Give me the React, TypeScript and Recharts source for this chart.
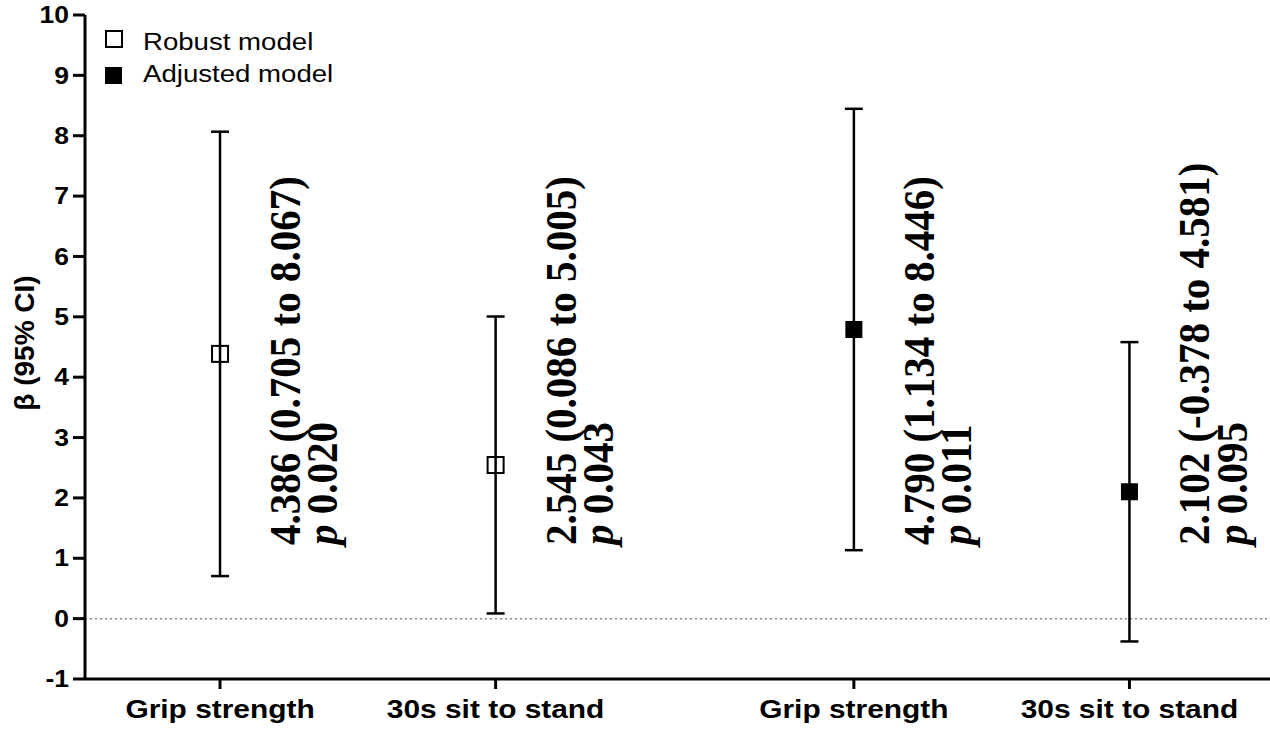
import { ScatterChart, Scatter, XAxis, YAxis, ErrorBar, ReferenceLine, Legend } from 'recharts';

const categories = ['Grip strength', '30s sit to stand', 'Grip strength', '30s sit to stand'];
const xPositions = [1, 2, 3.3, 4.3];

const robustBeta = [4.386, 2.545];
const robustLow = [0.705, 0.086];
const robustHigh = [8.067, 5.005];
const robustP = [0.02, 0.043];

const adjustedBeta = [4.79, 2.102];
const adjustedLow = [1.134, -0.378];
const adjustedHigh = [8.446, 4.581];
const adjustedP = [0.011, 0.095];

const yTicks = [-1, 0, 1, 2, 3, 4, 5, 6, 7, 8, 9, 10];
const yTitle = 'β (95% CI)';

const SANS = "'Liberation Sans', Arial, sans-serif";
const SERIF = "'Liberation Serif', 'Times New Roman', serif";
const SX = 1.15; // the source glyphs are a bit wider than Arial
const ANNOT_SX = 1.1;
const ANNOT_Y = 545;

const robustData = robustBeta.map((b, i) => ({
  x: xPositions[i],
  y: b,
  err: [b - robustLow[i], robustHigh[i] - b],
  low: robustLow[i],
  high: robustHigh[i],
  p: robustP[i],
}));

const adjustedData = adjustedBeta.map((b, i) => ({
  x: xPositions[i + 2],
  y: b,
  err: [b - adjustedLow[i], adjustedHigh[i] - b],
  low: adjustedLow[i],
  high: adjustedHigh[i],
  p: adjustedP[i],
}));

function Annotation({ x, d }: { x: number; d: any }) {
  return (
    <text
      transform={`translate(${x},${ANNOT_Y}) scale(${ANNOT_SX},1) rotate(-90)`}
      fontFamily={SERIF}
      fontWeight="bold"
      fontSize={41}
      fill="#000"
    >
      <tspan x={0} dy={0}>{`${d.y.toFixed(3)} (${d.low.toFixed(3)} to ${d.high.toFixed(3)})`}</tspan>
      <tspan x={0} dy={34}>
        <tspan fontStyle="italic">p</tspan>
        {' ' + d.p.toFixed(3)}
      </tspan>
    </text>
  );
}

const makeShape = (filled: boolean) => (props: any) => {
  const { cx, cy, payload } = props;
  const s = filled ? 17 : 16;
  return (
    <g>
      <rect
        x={cx - s / 2}
        y={cy - s / 2}
        width={s}
        height={s}
        fill={filled ? '#000' : 'none'}
        stroke="#000"
        strokeWidth={filled ? 0 : 2}
      />
      <Annotation x={cx + 80} d={payload} />
    </g>
  );
};

const XTick = (props: any) => {
  const { x, y, payload } = props;
  const idx = xPositions.indexOf(payload.value);
  return (
    <text
      transform={`translate(${x},${y}) scale(${SX},1)`}
      textAnchor="middle"
      dy="0.71em"
      fontFamily={SANS}
      fontWeight="bold"
      fontSize={26}
      fill="#000"
    >
      {categories[idx]}
    </text>
  );
};

const YTick = (props: any) => {
  const { x, y, payload } = props;
  return (
    <text
      transform={`translate(${x},${y}) scale(${SX},1)`}
      textAnchor="end"
      dy="0.355em"
      fontFamily={SANS}
      fontWeight="bold"
      fontSize={23}
      fill="#000"
    >
      {payload.value}
    </text>
  );
};

const renderLegend = () => (
  <svg width={360} height={100} style={{ display: 'block' }}>
    <rect x={106} y={31} width={16} height={16} fill="#fff" stroke="#000" strokeWidth={2} />
    <text transform={`translate(143,50) scale(${SX},1)`} fontFamily={SANS} fontSize={24} fill="#000">
      Robust model
    </text>
    <rect x={105} y={67} width={17} height={17} fill="#000" />
    <text transform={`translate(143,82) scale(${SX},1)`} fontFamily={SANS} fontSize={24} fill="#000">
      Adjusted model
    </text>
  </svg>
);

export default function App() {
  return (
    <div style={{ position: 'absolute', left: 0, top: 0, width: 1270, height: 731, background: '#fff' }}>
      <ScatterChart width={1270} height={731} margin={{ top: 15, right: 0, bottom: 0, left: 0 }}>
        <XAxis
          type="number"
          dataKey="x"
          domain={[0.51, 4.81]}
          ticks={xPositions}
          interval={0}
          height={52}
          tickSize={10}
          tickMargin={11}
          axisLine={{ stroke: '#000', strokeWidth: 3 }}
          tickLine={{ stroke: '#000', strokeWidth: 3 }}
          tick={<XTick />}
        />
        <YAxis
          type="number"
          dataKey="y"
          domain={[-1, 10]}
          ticks={yTicks}
          interval={0}
          width={85}
          tickSize={12}
          tickMargin={4}
          axisLine={{ stroke: '#000', strokeWidth: 3 }}
          tickLine={{ stroke: '#000', strokeWidth: 3 }}
          tick={<YTick />}
        />
        <ReferenceLine y={0} stroke="#8a8a8a" strokeWidth={1.5} strokeDasharray="2 3" />
        <Legend
          layout="vertical"
          align="center"
          verticalAlign="middle"
          content={renderLegend}
          wrapperStyle={{ top: 0, left: 0, width: 360, height: 100 }}
        />
        <Scatter name="Robust model" data={robustData} shape={makeShape(false)} isAnimationActive={false}>
          <ErrorBar dataKey="err" direction="y" width={9} stroke="#000" strokeWidth={2.5} />
        </Scatter>
        <Scatter name="Adjusted model" data={adjustedData} shape={makeShape(true)} isAnimationActive={false}>
          <ErrorBar dataKey="err" direction="y" width={9} stroke="#000" strokeWidth={2.5} />
        </Scatter>
      </ScatterChart>
      <svg width={50} height={731} style={{ position: 'absolute', left: 0, top: 0, pointerEvents: 'none' }}>
        <text
          transform="translate(34,343) rotate(-90)"
          textAnchor="middle"
          fontFamily={SANS}
          fontWeight="bold"
          fontSize={28}
          fill="#000"
        >
          {yTitle}
        </text>
      </svg>
    </div>
  );
}
